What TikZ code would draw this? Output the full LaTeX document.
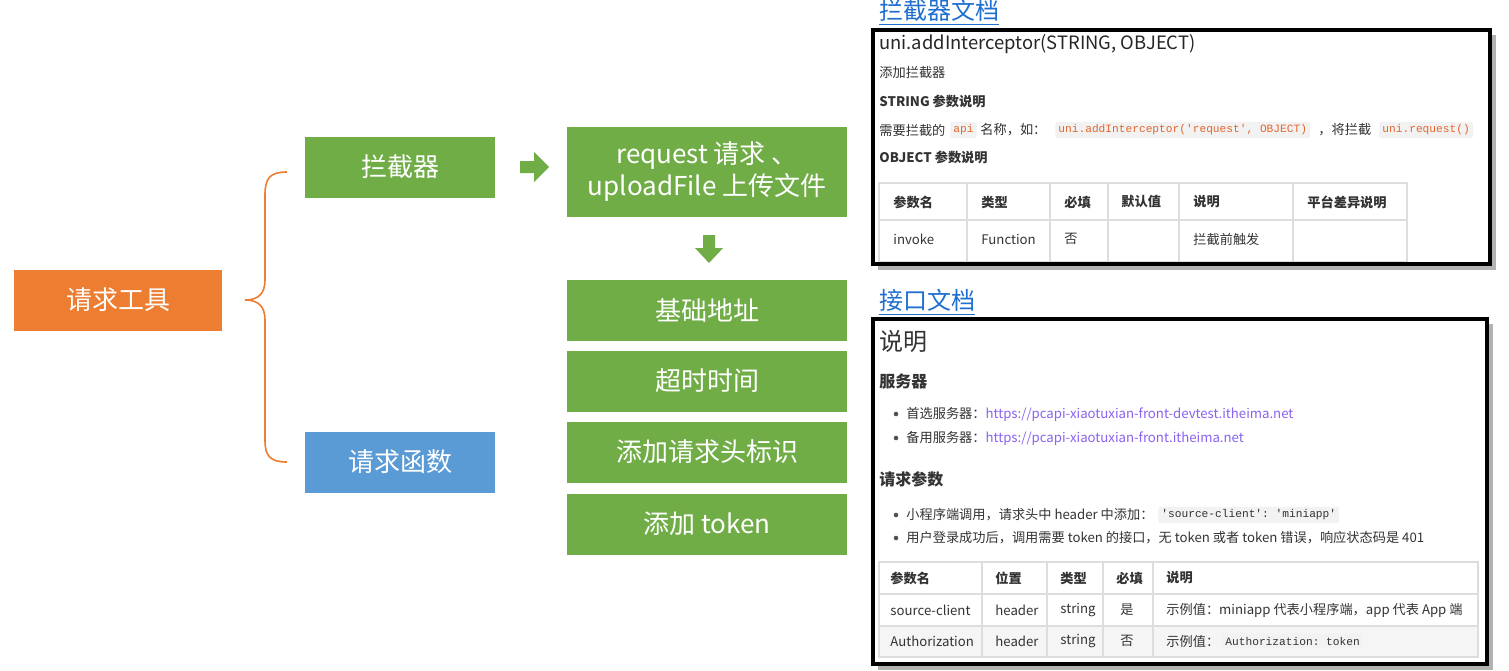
\documentclass[tikz,border=0pt]{standalone}
\usepackage{fontspec}
\setmainfont{Noto Sans CJK SC}
\setmonofont{Liberation Mono}
\definecolor{og}{HTML}{ED7D31}
\definecolor{gr}{HTML}{70AD47}
\definecolor{bl}{HTML}{5B9BD5}
\definecolor{lk}{HTML}{1F6FD0}
\definecolor{tx}{HTML}{333333}
\definecolor{url}{HTML}{8A63F0}
\definecolor{cd}{HTML}{E4662C}
\definecolor{tl}{HTML}{DDDDDD}
\begin{document}
\begin{tikzpicture}[x=0.5pt,y=-0.5pt,
 box/.style={minimum width=95pt,minimum height=30.5pt,text=white,font=\fontsize{13}{15}\selectfont,inner sep=0pt},
 gbox/.style={box,fill=gr,minimum width=140pt},
 t/.style={anchor=west,inner sep=0pt,text=tx,font=\fontsize{6.6}{8}\selectfont},
 tb/.style={t,font=\fontsize{6.6}{8}\selectfont\bfseries},
 code/.style={anchor=west,inner sep=1.5pt,fill=black!5,text=cd,rounded corners=1pt,font=\ttfamily\fontsize{5.6}{7}\selectfont},
 ttl/.style={anchor=west,inner sep=0pt,text=lk,font=\fontsize{12}{14}\selectfont},
 panel/.style={draw=black,line width=2pt,fill=white},
 bul/.style={circle,fill=tx!85,inner sep=0pt,minimum size=2.3pt}]
\useasboundingbox (0,0) rectangle (1509,670);
\fill[white] (0,0) rectangle (1509,670);
% left tree
\node[box,fill=og,minimum width=104pt] (tool) at (118,300) {请求工具};
\node[box,fill=gr] (inter) at (400,167) {拦截器};
\node[box,fill=bl] (func) at (400,462) {请求函数};
\coordinate (bt) at (287,172);
\coordinate (bb) at (287,462);
\coordinate (tip) at (245,300);
\draw[og,line width=0.8pt] (bt) .. controls (270,172) and (265,178) .. (265,195) -- (265,280)
  .. controls (265,294) and (258,300) .. (tip) .. controls (258,300) and (265,306) .. (265,320)
  -- (265,440) .. controls (265,456) and (270,462) .. (bb);
\fill[gr] (520,161) -- (534,161) -- (534,152) -- (549,167) -- (534,182) -- (534,173) -- (520,173) -- cycle;
\node[gbox,minimum height=45pt,align=center,font=\fontsize{13}{16}\selectfont] (req) at (707,172) {request 请求 、\\uploadFile 上传文件};
\fill[gr] (703,235) -- (715,235) -- (715,248) -- (723,248) -- (709,263) -- (695,248) -- (703,248) -- cycle;
\node[gbox] (b1) at (707,310) {基础地址};
\node[gbox] (b2) at (707,381) {超时时间};
\node[gbox] (b3) at (707,452) {添加请求头标识};
\node[gbox] (b4) at (707,524) {添加 token};
% panel 1
\node[ttl] (t1) at (879,12) {\underline{拦截器文档}};
\fill[black!30] (878,35) rectangle (1496,270);
\draw[panel] (873,30) rectangle (1490,264);
\node[t,font=\fontsize{9.2}{11}\selectfont\mdseries,text=black!85] (p1a) at (879,44) {uni.addInterceptor(STRING, OBJECT)};
\node[t] (p1b) at (879,72) {添加拦截器};
\node[tb] (p1c) at (879,101) {STRING 参数说明};
\node[t] (p1d) at (879,130) {需要拦截的};
\node[code] (c1) at (950,130) {api};
\node[t] (p1e) at (980,130) {名称，如：};
\node[code] (c2) at (1055,130) {uni.addInterceptor('request', OBJECT)};
\node[t] (p1f) at (1318,130) {，将拦截};
\node[code] (c3) at (1379,130) {uni.request()};
\node[tb] (p1g) at (879,157) {OBJECT 参数说明};
\draw[tl,line width=0.6pt] (879,183) rectangle (1407,262);
\draw[tl,line width=0.6pt] (879,220) -- (1407,220);
\foreach \x in {967,1050,1108,1179,1293} \draw[tl,line width=0.6pt] (\x,183) -- (\x,262);
\foreach \x/\s in {893/参数名,981/类型,1064/必填,1121/默认值,1193/说明,1307/平台差异说明} \node[tb] at (\x,202) {\s};
\foreach \x/\s in {893/invoke,981/Function,1064/否,1193/拦截前触发} \node[t] at (\x,239) {\s};
\draw[panel,fill=none] (873,30) rectangle (1490,264);
% panel 2
\node[ttl] (t2) at (879,302) {\underline{接口文档}};
\fill[black!30] (878,324) rectangle (1493,670);
\draw[panel] (873,319) rectangle (1487,664);
\node[t,font=\fontsize{12}{14}\selectfont] (s0) at (879,341) {说明};
\node[tb,font=\fontsize{8}{10}\selectfont\bfseries] (s1) at (879,381) {服务器};
\node[bul] at (896,414) {};
\node[t] (s2) at (906,414) {首选服务器：\textcolor{url}{https://pcapi-xiaotuxian-front-devtest.itheima.net}};
\node[bul] at (896,438) {};
\node[t] (s3) at (906,438) {备用服务器：\textcolor{url}{https://pcapi-xiaotuxian-front.itheima.net}};
\node[tb,font=\fontsize{8}{10}\selectfont\bfseries] (s4) at (879,479) {请求参数};
\node[bul] at (896,515) {};
\node[t] (s5) at (906,515) {小程序端调用，请求头中 header 中添加：};
\node[code,text=tx] (c4) at (1158,515) {'source-client': 'miniapp'};
\node[bul] at (896,538) {};
\node[t] (s6) at (906,538) {用户登录成功后，调用需要 token 的接口，无 token 或者 token 错误，响应状态码是 401};
\fill[black!4] (879,626) rectangle (1478,657);
\draw[tl,line width=0.6pt] (879,562) rectangle (1478,657);
\draw[tl,line width=0.6pt] (879,594) -- (1478,594) (879,626) -- (1478,626);
\foreach \x in {982,1047,1103,1153} \draw[tl,line width=0.6pt] (\x,562) -- (\x,657);
\foreach \x/\s in {890/参数名,995/位置,1060/类型,1116/必填,1166/说明} \node[tb] at (\x,578) {\s};
\foreach \x/\s in {890/source-client,995/header,1060/string,1120/是,1166/{示例值：miniapp 代表小程序端，app 代表 App 端}} \node[t] at (\x,610) {\s};
\foreach \x/\s in {890/Authorization,995/header,1060/string,1120/否,1166/示例值：} \node[t] at (\x,641) {\s};
\node[code,text=tx] (c5) at (1222,641) {Authorization: token};
\end{tikzpicture}
\end{document}
